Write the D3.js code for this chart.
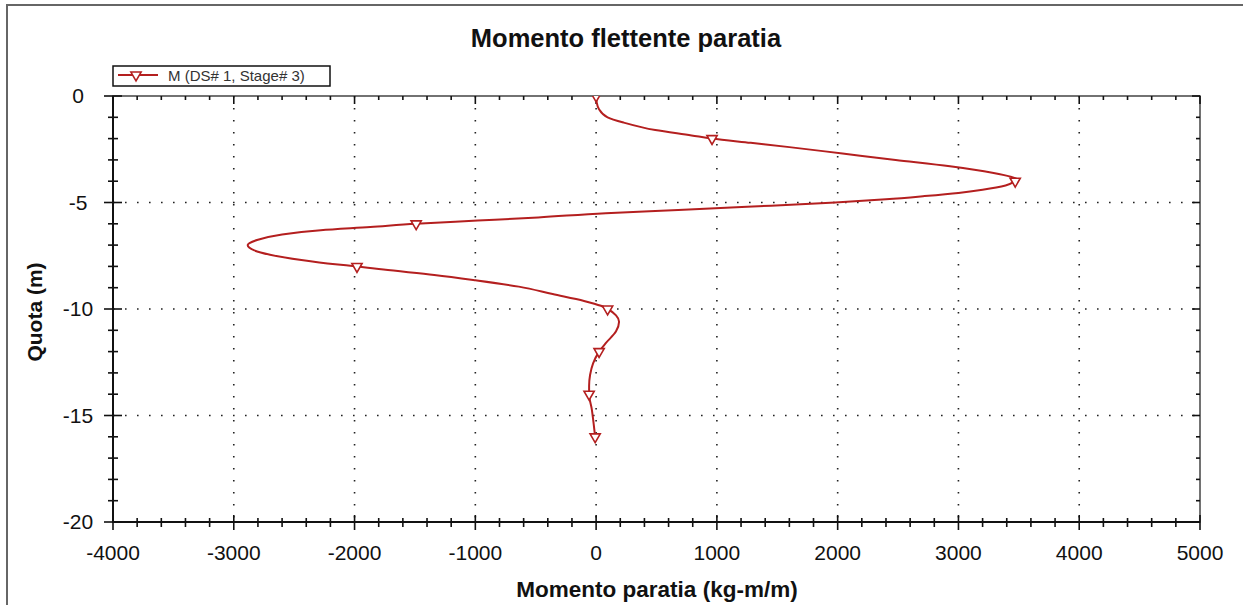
<!DOCTYPE html>
<html lang="it">
<head>
  <meta charset="UTF-8">
  <title>Momento flettente paratia</title>
  <script src="https://d3js.org/d3.v7.min.js"></script>
  <style>
    body {
      margin: 0;
      background: #fff;
      font-family: "Liberation Sans", Arial, sans-serif;
    }
    svg { display: block; }
  </style>
</head>
<body>
  <div id="chart"></div>

  <script>
    // quota (m) and bending moment (kg-m/m)
    const depths = [0, -0.3, -0.6, -1.0, -1.25, -1.6, -1.85, -2.0, -2.2, -2.4, -2.7, -3.0, -3.3, -3.6, -3.8, -3.92,
      -4.0, -4.2, -4.4, -4.55, -4.7, -4.85, -5.0, -5.2, -5.35, -5.5, -5.7, -5.85, -6.0, -6.15, -6.3, -6.5, -6.75,
      -7.0, -7.25, -7.45, -7.7, -7.9, -8.0, -8.15, -8.4, -8.65, -8.95, -9.3, -9.62, -9.85, -10.0, -10.3, -10.6,
      -11.05, -11.6, -12.0, -12.55, -13.1, -13.6, -14.0, -14.7, -15.4, -16.0];
    const moments = [0, 5, 22, 95, 230, 490, 790, 960, 1280, 1600, 2040, 2480, 2930, 3280, 3440, 3490,
      3470, 3390, 3200, 3000, 2720, 2400, 1980, 1250, 680, 80, -480, -980, -1490, -1870, -2280, -2600, -2800,
      -2885, -2830, -2700, -2440, -2160, -1980, -1760, -1340, -1000, -640, -360, -100, 40, 95, 165, 190,
      165, 80, 25, -25, -50, -58, -58, -36, -20, -8];
    const markerDepths = [0, -2, -4, -6, -8, -10, -12, -14, -16];

    const xTicks = [-4000, -3000, -2000, -1000, 0, 1000, 2000, 3000, 4000, 5000];
    const yTicks = [0, -5, -10, -15, -20];
    const xMinor = d3.range(-4000, 5001, 200);
    const yMinor = d3.range(-20, 0.1, 1);

    const seriesName = "M (DS# 1, Stage# 3)";
    const red = "#b41f1f";

    const W = 1243, H = 605;
    const pL = 113, pR = 1200, pT = 96, pB = 522;

    const svg = d3.select("#chart").append("svg")
      .attr("width", W).attr("height", H);

    // outer frame
    svg.append("rect")
      .attr("x", 7).attr("y", 5).attr("width", W + 20).attr("height", H + 20)
      .attr("fill", "none").attr("stroke", "#666").attr("stroke-width", 2);

    const x = d3.scaleLinear().domain([-4000, 5000]).range([pL, pR]);
    const y = d3.scaleLinear().domain([-20, 0]).range([pB, pT]);

    // dotted grid on the major values
    const grid = svg.append("g")
      .attr("stroke", "#222").attr("stroke-width", 1.6)
      .attr("stroke-dasharray", "1.6 10.4");
    grid.selectAll(".gx").data(xTicks.filter(d => d > -4000 && d < 5000)).join("line")
      .attr("x1", d => x(d)).attr("x2", d => x(d))
      .attr("y1", pT).attr("y2", pB);
    grid.selectAll(".gy").data(yTicks.filter(d => d > -20 && d < 0)).join("line")
      .attr("x1", pL).attr("x2", pR)
      .attr("y1", d => y(d)).attr("y2", d => y(d));

    // plot border: top/right lighter, left/bottom heavy
    svg.append("rect")
      .attr("x", pL).attr("y", pT).attr("width", pR - pL).attr("height", pB - pT)
      .attr("fill", "none").attr("stroke", "#444").attr("stroke-width", 1.5);
    svg.append("path")
      .attr("d", `M${pL},${pT}V${pB}H${pR}`)
      .attr("fill", "none").attr("stroke", "#111").attr("stroke-width", 2);

    const isMajX = d => xTicks.includes(d);
    const isMajY = d => yTicks.includes(d);
    const tickGroup = () => svg.append("g").attr("stroke", "#111").attr("stroke-width", 1.6);

    // bottom ticks (crossing the axis)
    tickGroup().selectAll("line").data(xMinor).join("line")
      .attr("x1", d => x(d)).attr("x2", d => x(d))
      .attr("y1", d => pB - (isMajX(d) ? 7 : 4))
      .attr("y2", d => pB + (isMajX(d) ? 8 : 5));
    // top ticks (inward)
    tickGroup().selectAll("line").data(xMinor).join("line")
      .attr("x1", d => x(d)).attr("x2", d => x(d))
      .attr("y1", pT).attr("y2", d => pT + (isMajX(d) ? 8 : 4));
    // left ticks (crossing the axis)
    tickGroup().selectAll("line").data(yMinor).join("line")
      .attr("y1", d => y(d)).attr("y2", d => y(d))
      .attr("x1", d => pL - (isMajY(d) ? 9 : 5))
      .attr("x2", d => pL + (isMajY(d) ? 9 : 5));
    // right ticks (inward)
    tickGroup().selectAll("line").data(yMinor).join("line")
      .attr("y1", d => y(d)).attr("y2", d => y(d))
      .attr("x1", pR).attr("x2", d => pR - (isMajY(d) ? 8 : 4));

    // tick labels
    svg.append("g").selectAll("text").data(xTicks).join("text")
      .attr("x", d => x(d)).attr("y", 560)
      .attr("text-anchor", "middle").attr("font-size", 21).attr("fill", "#111")
      .text(d => d);
    svg.append("g").selectAll("text").data(yTicks).join("text")
      .attr("x", 78).attr("y", d => y(d) + 7)
      .attr("text-anchor", "middle").attr("font-size", 21).attr("fill", "#111")
      .text(d => d);

    // titles
    svg.append("text")
      .attr("x", 626).attr("y", 47).attr("text-anchor", "middle")
      .attr("font-size", 25.5).attr("font-weight", "bold").attr("fill", "#111")
      .text("Momento flettente paratia");
    svg.append("text")
      .attr("x", 657).attr("y", 597).attr("text-anchor", "middle")
      .attr("font-size", 22.5).attr("font-weight", "bold").attr("fill", "#111")
      .text("Momento paratia (kg-m/m)");
    svg.append("text")
      .attr("transform", "translate(42,312) rotate(-90)").attr("text-anchor", "middle")
      .attr("font-size", 21).attr("font-weight", "bold").attr("fill", "#111")
      .text("Quota (m)");

    // curve
    const pts = depths.map((d, i) => ({ d, m: moments[i] }));
    svg.append("clipPath").attr("id", "clip").append("rect")
      .attr("x", pL).attr("y", pT).attr("width", pR - pL).attr("height", pB - pT);
    const plot = svg.append("g").attr("clip-path", "url(#clip)");

    const line = d3.line()
      .x(p => x(p.m)).y(p => y(p.d))
      .curve(d3.curveMonotoneY);
    plot.append("path").datum(pts)
      .attr("d", line)
      .attr("fill", "none").attr("stroke", red).attr("stroke-width", 2);

    const tri = d3.symbol(d3.symbolTriangle, 45);
    plot.selectAll(".mk").data(pts.filter(p => markerDepths.includes(p.d))).join("path")
      .attr("d", tri)
      .attr("transform", p => `translate(${x(p.m)},${y(p.d)}) rotate(180)`)
      .attr("fill", "#fff").attr("stroke", red).attr("stroke-width", 1.6);

    // legend
    const lg = svg.append("g");
    lg.append("rect")
      .attr("x", 113).attr("y", 66).attr("width", 217).attr("height", 20)
      .attr("fill", "#fff").attr("stroke", "#111").attr("stroke-width", 1.5);
    lg.append("line")
      .attr("x1", 118).attr("x2", 158).attr("y1", 75).attr("y2", 75)
      .attr("stroke", red).attr("stroke-width", 2);
    lg.append("path")
      .attr("d", tri).attr("transform", "translate(136,75) rotate(180)")
      .attr("fill", "#fff").attr("stroke", red).attr("stroke-width", 1.6);
    lg.append("text")
      .attr("x", 168).attr("y", 81).attr("font-size", 15).attr("fill", "#333")
      .text(seriesName);
  </script>
</body>
</html>
